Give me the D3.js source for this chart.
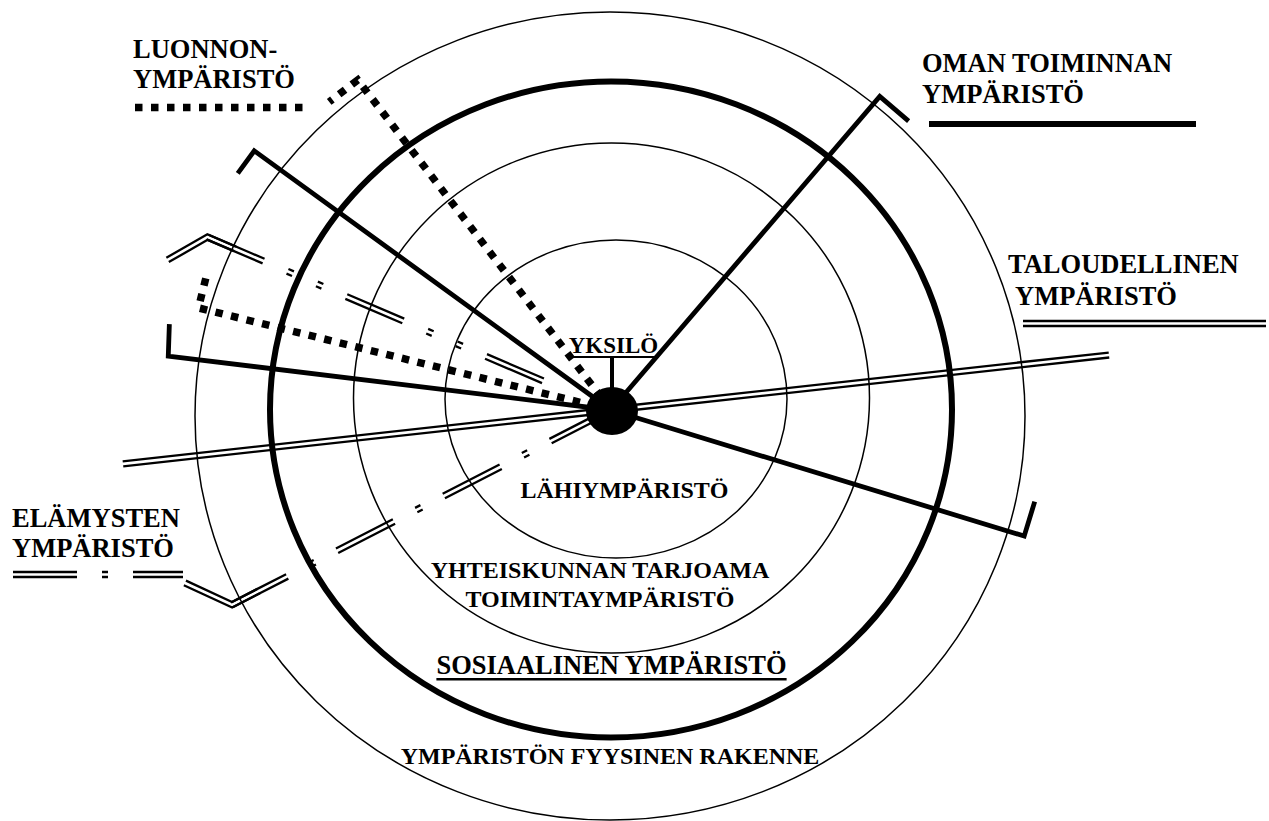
<!DOCTYPE html>
<html>
<head>
<meta charset="utf-8">
<script src="https://d3js.org/d3.v7.min.js"></script>
<style>
    body { margin: 0; background: #fff; }
</style>
</head>
<body>
<svg id="chart" width="1269" height="821"></svg>
<script>

// rings round the individual, inside out
const ringNames = [["LÄHIYMPÄRISTÖ"], ["YHTEISKUNNAN TARJOAMA", "TOIMINTAYMPÄRISTÖ"], ["SOSIAALINEN YMPÄRISTÖ"], ["YMPÄRISTÖN FYYSINEN RAKENNE"]];
const ringRadiusX = [171, 258, 341, 415];
const ringRadiusY = [159, 255, 328, 404];

// rays out of YKSILÖ (bearing in degrees, clockwise from north)
const rayGroup   = ["oma", "oma", "oma", "oma", "luonto", "luonto", "talous", "talous", "elamys", "elamys"];
const rayBearing = [40.6, 306, 276.95, 106.97, 322.5, 283.9, 83.7, 263.7, 293.2, 242.8];
const rayLength  = [413, 441, 446, 432, 416, 425, 501, 491, 439, 426];
const rayStart   = [0, 0, 0, 0, 0, 0, 0, 0, 74, 4];
const hookTurn   = [90, -90, 85, -90, -90, 90, 0, 0, -53, 52];
const hookLength = [38, 28, 32, 36, 36, 32, 0, 0, 46, 52];

// legend
const legendNames = [["LUONNON-", "YMPÄRISTÖ"], ["OMAN TOIMINNAN", "YMPÄRISTÖ"], ["TALOUDELLINEN", "YMPÄRISTÖ"], ["ELÄMYSTEN", "YMPÄRISTÖ"]];
const legendGroup = ["luonto", "oma", "talous", "elamys"];

const centerLabel = "YKSILÖ";

// ---------------------------------------------------------------

const svg = d3.select("#chart");
const cx = 611, cy = 410;
const FONT = "'Liberation Serif', 'Times New Roman', Times, 'DejaVu Serif', serif";

const styles = {
    oma:    {type: "solid", width: 4.8},
    luonto: {type: "dot", width: 7.5, dash: "7.5,8.5"},
    talous: {type: "double"},
    elamys: {type: "double", dash: "64,25,6,25"}
};
// the upper elämys ray has two short dashes between the long ones
const rayDash = {8: "62,26,6,26,6,26"};

// layout of the ellipses and the texts
const ringShift = [[5, -11], [0.5, -12], [0, -0.5], [-1, 6]];
const ringWidth = [1.5, 1.5, 6, 1.5];
const ringLabelX = [624.5, 600, 611.5, 610];
const ringLabelY = [[498], [578, 607], [674], [764]];
const ringLabelSize = [24, 24, 26.5, 24];

const legendText = [[133, [58, 88]], [922, [72, 103]], [1008, [273, 305]], [12, [527, 557]]];
const legendIndent = [0, 0, 7, 0];
const legendLine = [[135, 303, 107.5], [929, 1196, 124], [1023, 1266, 323.5], [13, 183, 574.5]];

const angle = d3.scaleLinear().domain([0, 360]).range([0, 2 * Math.PI]);

function polar(bearing, r, from) {
    let o = from || [cx, cy];
    let p = d3.pointRadial(angle(bearing), r);
    return [o[0] + p[0], o[1] + p[1]];
}

// parallel copy of a polyline, mitred at the corners
function offsetLine(pts, d) {
    let n = [];
    for (let i = 0; i < pts.length - 1; i++) {
        let dx = pts[i + 1][0] - pts[i][0], dy = pts[i + 1][1] - pts[i][1];
        let len = Math.hypot(dx, dy);
        n.push([-dy / len, dx / len]);
    }
    return pts.map(function (p, i) {
        if (i === 0) return [p[0] + n[0][0] * d, p[1] + n[0][1] * d];
        if (i === pts.length - 1) return [p[0] + n[i - 1][0] * d, p[1] + n[i - 1][1] * d];
        let a = n[i - 1], b = n[i];
        let k = d / (1 + a[0] * b[0] + a[1] * b[1]);
        return [p[0] + (a[0] + b[0]) * k, p[1] + (a[1] + b[1]) * k];
    });
}

const line = d3.line();

function drawStroke(g, pts, style, dash) {
    if (style.type === "double") {
        [-2.5, 2.5].forEach(function (d) {
            g.append("path")
                .attr("d", line(offsetLine(pts, d)))
                .attr("fill", "none")
                .attr("stroke", "#000")
                .attr("stroke-width", 2.3)
                .attr("stroke-linejoin", "miter")
                .attr("stroke-dasharray", dash || null);
        });
    } else {
        g.append("path")
            .attr("d", line(pts))
            .attr("fill", "none")
            .attr("stroke", "#000")
            .attr("stroke-width", style.width)
            .attr("stroke-linejoin", "miter")
            .attr("stroke-miterlimit", 10)
            .attr("stroke-dasharray", dash || style.dash || null);
    }
}

function label(g, x, y, size, anchor, t) {
    return g.append("text")
        .attr("x", x)
        .attr("y", y)
        .attr("text-anchor", anchor)
        .attr("font-family", FONT)
        .attr("font-weight", "bold")
        .attr("font-size", size)
        .attr("fill", "#000")
        .text(t);
}

// rings
svg.append("g").selectAll("ellipse")
    .data(ringRadiusX)
    .join("ellipse")
    .attr("cx", (d, i) => cx + ringShift[i][0])
    .attr("cy", (d, i) => cy + ringShift[i][1])
    .attr("rx", d => d)
    .attr("ry", (d, i) => ringRadiusY[i])
    .attr("fill", "none")
    .attr("stroke", "#000")
    .attr("stroke-width", (d, i) => ringWidth[i]);

// rays
let rays = svg.append("g");
rayBearing.forEach(function (b, i) {
    let style = styles[rayGroup[i]];
    let end = polar(b, rayLength[i]);
    let hook = hookLength[i] > 0 ? polar(b + hookTurn[i], hookLength[i], end) : null;

    if (style.type === "double") {
        drawStroke(rays, [polar(b, rayStart[i]), end], style, rayDash[i] || style.dash);
        if (hook) {
            drawStroke(rays, [polar(b, rayLength[i] - 30), end, hook], style, null);
        }
    } else {
        let pts = [[cx, cy], end];
        if (hook) pts.push(hook);
        drawStroke(rays, pts, style);
    }
});

// the individual
svg.append("line")
    .attr("x1", cx + 1).attr("x2", cx + 1)
    .attr("y1", 357).attr("y2", 395)
    .attr("stroke", "#000")
    .attr("stroke-width", 4);

svg.append("ellipse")
    .attr("cx", cx + 1)
    .attr("cy", cy + 1)
    .attr("rx", 26)
    .attr("ry", 24)
    .attr("fill", "#000");

let yk = label(svg, 613.5, 353, 23, "middle", centerLabel);
let ykw = yk.node().getComputedTextLength();
svg.append("rect")
    .attr("x", 613.5 - ykw / 2).attr("y", 356)
    .attr("width", ykw).attr("height", 2);

// ring labels
ringNames.forEach(function (lines, i) {
    lines.forEach(function (t, j) {
        let txt = label(svg, ringLabelX[i], ringLabelY[i][j], ringLabelSize[i], "middle", t);
        if (i === 2) {
            let w = txt.node().getComputedTextLength();
            svg.append("rect")
                .attr("x", ringLabelX[i] - w / 2).attr("y", ringLabelY[i][j] + 4)
                .attr("width", w).attr("height", 2.5);
        }
    });
});

// legend
let legend = svg.append("g");
legendNames.forEach(function (lines, i) {
    lines.forEach(function (t, j) {
        label(legend, legendText[i][0] + (j > 0 ? legendIndent[i] : 0), legendText[i][1][j], 26.5, "start", t);
    });
    let l = legendLine[i];
    let style = styles[legendGroup[i]];
    if (legendGroup[i] === "oma") style = {type: "solid", width: 6};
    drawStroke(legend, [[l[0], l[2]], [l[1], l[2]]], style, style.dash);
});

</script>
</body>
</html>
